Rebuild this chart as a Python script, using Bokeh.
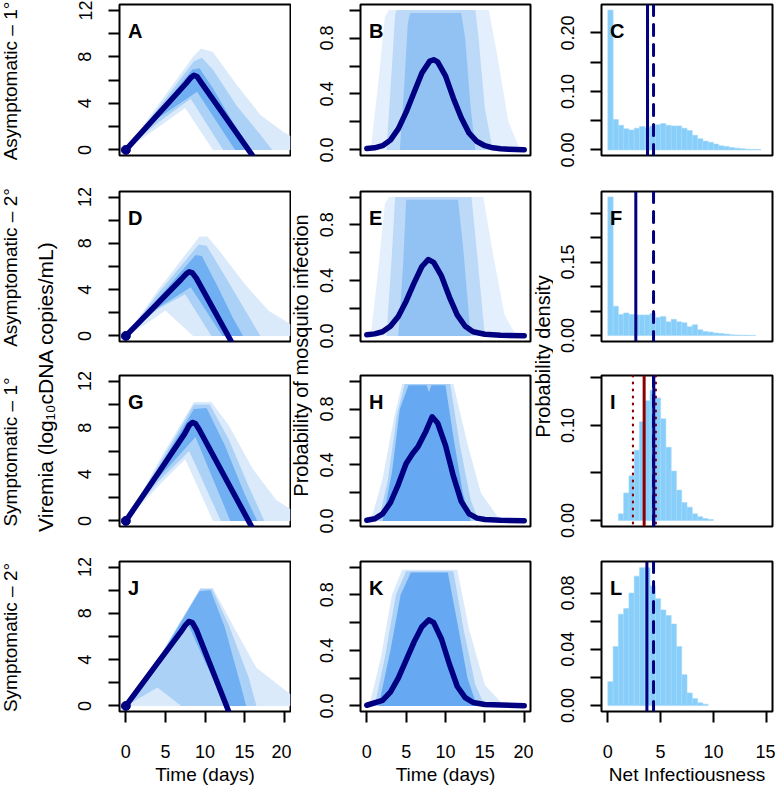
from math import pi
from bokeh.plotting import figure
from bokeh.layouts import row, column
from bokeh.models import Range1d, FixedTicker, PrintfTickFormatter, Label, Span
from bokeh.embed import file_html
from bokeh.resources import INLINE

# ---------------------------------------------------------------- data
time_ticks = [0, 5, 10, 15, 20]
net_ticks = [0, 5, 10, 15]
row_labels = ["Asymptomatic \u2013 1\u00b0", "Asymptomatic \u2013 2\u00b0",
              "Symptomatic \u2013 1\u00b0", "Symptomatic \u2013 2\u00b0"]
panel_letters = [["A", "B", "C"], ["D", "E", "F"], ["G", "H", "I"], ["J", "K", "L"]]
ylab_viremia = "Viremia (log\u2081\u2080cDNA copies/mL)"
ylab_prob = "Probability of mosquito infection"
ylab_dens = "Probability density"
xlab_time = "Time (days)"
xlab_net = "Net Infectiousness"

# median viremia trajectories (days, log10 copies/mL)
A_vir_t = [0, 4, 7.6, 8.2, 8.6, 9.0, 9.5, 16.5]
A_vir_v = [0, 3.0, 5.7, 6.2, 6.4, 6.3, 5.8, -0.97]
D_vir_t = [0, 4, 7.0, 7.6, 8.0, 8.4, 8.9, 13.9]
D_vir_v = [0, 2.8, 4.9, 5.35, 5.55, 5.45, 5.0, -1.2]
G_vir_t = [0, 4, 7.4, 8.0, 8.4, 8.8, 9.3, 16.5]
G_vir_v = [0, 4.0, 7.45, 8.2, 8.45, 8.35, 7.8, -1.26]
J_vir_t = [0, 4, 6.9, 7.5, 7.95, 8.4, 8.9, 13.7]
J_vir_v = [0, 3.7, 6.35, 6.95, 7.3, 7.2, 6.6, -1.7]

# envelopes of the sampled viremia trajectories [day, value]
A_haze = [[0, 0], [4, 3.8], [8.5, 8.0], [9.5, 8.7], [11, 8.4], [14, 5.6], [17, 3.0], [20, 1.5], [20.8, 1.2], [20.8, 0], [11, 0], [7.5, 3.6], [4, 1.9]]
A_mid = [[0, 0], [4, 3.5], [8.6, 7.6], [9.6, 7.9], [11, 6.9], [14, 3.8], [17, 1.3], [18.5, 0], [12.3, 0], [8.2, 4.4], [4, 2.3]]
A_dense = [[0, 0], [4, 3.2], [8.4, 6.9], [9.3, 7.0], [11, 5.3], [13.5, 2.4], [15.8, 0], [13.8, 0], [9, 5.0], [4, 2.7]]
D_haze = [[0, 0], [4, 3.9], [9.3, 8.6], [10.3, 8.6], [12, 7.2], [15, 4.5], [18, 2.2], [20.8, 1.0], [20.8, 0], [8.5, 0], [5, 2.2], [2.5, 1.0]]
D_mid = [[0, 0], [4, 3.6], [9.2, 7.9], [10.2, 7.8], [12.5, 5.2], [15, 2.3], [17, 0], [10.8, 0], [7.5, 3.6], [4, 2.3]]
D_dense = [[0, 0], [4, 3.2], [8.8, 7.0], [9.6, 6.9], [11.5, 4.4], [13.5, 1.6], [14.8, 0], [12.2, 0], [8.2, 4.2], [4, 2.4]]
G_haze = [[0, 0], [4.5, 5.5], [8.6, 10.2], [10.8, 10.2], [13, 8.2], [16, 4.5], [19, 1.8], [20.8, 1.0], [20.8, 0], [11, 0], [7.5, 5.3], [4, 2.9]]
G_mid = [[0, 0], [4.5, 5.2], [8.6, 10.0], [10.6, 10.0], [13, 7.0], [15.5, 3.0], [17.5, 0], [12, 0], [8, 6.0], [4, 3.3]]
G_dense = [[0, 0], [4.5, 4.9], [8.6, 9.6], [10.2, 9.7], [12.5, 6.5], [15, 2.3], [16.6, 0], [13.2, 0], [8.8, 7.2], [4, 3.6]]
J_haze = [[0, 0], [4.5, 4.6], [9.4, 10.2], [11, 10.2], [13.5, 7.0], [16.5, 3.3], [20.8, 1.0], [20.8, 0], [3.5, 0]]
J_mid = [[0, 0], [4.5, 4.5], [9.4, 10.1], [10.9, 10.1], [13, 7.0], [15.5, 2.5], [16.5, 0], [7, 0], [4, 1.6]]
J_dense = [[0, 0], [4.5, 4.4], [9.3, 9.9], [10.7, 10.0], [12.5, 6.8], [14.5, 1.8], [15.2, 0], [12.8, 0], [10, 3.8], [7.9, 7.0], [4, 3.4]]

# median probability of mosquito infection
B_prob_t = [0, 1, 2, 3, 4, 5, 6, 7, 8, 8.5, 9, 10, 11, 12, 13, 14, 15, 16, 17, 18, 19, 20]
B_prob_v = [0.01, 0.015, 0.03, 0.07, 0.15, 0.27, 0.41, 0.55, 0.635, 0.645, 0.63, 0.53, 0.37, 0.23, 0.12, 0.06, 0.03, 0.015, 0.008, 0.005, 0.003, 0.002]
E_prob_t = [0, 1, 2, 3, 4, 5, 6, 7, 7.8, 8.5, 9.5, 10.5, 11.5, 12.5, 13.5, 15, 17, 20]
E_prob_v = [0.008, 0.015, 0.03, 0.07, 0.14, 0.25, 0.38, 0.5, 0.55, 0.53, 0.43, 0.28, 0.15, 0.07, 0.03, 0.012, 0.005, 0.002]
H_prob_t = [0, 1, 2, 3, 4, 5, 5.8, 6.5, 7.5, 8.3, 9, 10, 11, 12, 13, 14, 15, 17, 20]
H_prob_v = [0.005, 0.015, 0.05, 0.13, 0.26, 0.41, 0.48, 0.53, 0.64, 0.745, 0.70, 0.54, 0.32, 0.14, 0.05, 0.02, 0.01, 0.004, 0.002]
K_prob_t = [0, 2, 3, 4, 5, 6, 7, 7.9, 8.5, 9.5, 10.5, 11.5, 12.5, 13.5, 15, 20]
K_prob_v = [0.005, 0.04, 0.1, 0.2, 0.33, 0.46, 0.57, 0.62, 0.6, 0.48, 0.3, 0.14, 0.06, 0.025, 0.01, 0.002]

# envelopes of the sampled probability curves [day, probability]
B_haze = [[0.5, 0], [1.5, 0.5], [2.3, 0.95], [2.8, 1.0], [15.5, 1.0], [16.5, 0.7], [18, 0.2], [19.5, 0]]
B_mid = [[2.5, 0], [3.2, 0.6], [3.6, 0.97], [3.8, 1.0], [13.8, 1.0], [14.2, 0.8], [15, 0.3], [16, 0]]
B_dense = [[4.2, 0], [4.8, 0.5], [5.2, 0.9], [5.5, 0.98], [12.0, 0.98], [12.5, 0.8], [13.2, 0.3], [13.8, 0]]
E_haze = [[0.5, 0], [1.5, 0.5], [2.3, 0.95], [2.8, 1.0], [14.8, 1.0], [16, 0.6], [17.5, 0.15], [19, 0]]
E_mid = [[2.5, 0], [3.2, 0.6], [3.6, 1.0], [13.3, 1.0], [14.0, 0.6], [15, 0]]
E_dense = [[4, 0], [4.6, 0.5], [5.0, 0.98], [11.6, 0.98], [12.3, 0.6], [13.2, 0]]
H_haze = [[0.5, 0], [2, 0.3], [3.5, 0.75], [4.5, 0.98], [11, 0.98], [12.8, 0.55], [14.5, 0.2], [17, 0]]
H_mid = [[1.5, 0], [2.7, 0.3], [3.8, 0.75], [4.8, 0.98], [10.6, 0.98], [11.8, 0.55], [13.2, 0.15], [14.2, 0]]
H_dense = [[2.0, 0], [3.2, 0.35], [4.2, 0.8], [5.3, 0.97], [7.6, 0.97], [7.9, 0.92], [8.2, 0.97], [10.0, 0.97], [11.0, 0.6], [12.2, 0.2], [13.2, 0]]
K_haze = [[0.3, 0], [1.8, 0.35], [3.2, 0.8], [4.5, 0.98], [11.5, 0.98], [13, 0.55], [15, 0.15], [17.5, 0]]
K_mid = [[1.0, 0], [2.3, 0.35], [3.7, 0.8], [5, 0.97], [11, 0.97], [12.3, 0.55], [13.8, 0.15], [15, 0]]
K_dense = [[1.5, 0], [3, 0.4], [4.3, 0.8], [5.6, 0.96], [10.3, 0.96], [11.5, 0.6], [12.8, 0.2], [14, 0]]

# net infectiousness histograms (density per bin of width 0.5)
bin_width = 0.5
C_start = 0.0
C_density = [0.239, 0.052, 0.042, 0.036, 0.034, 0.037, 0.040, 0.038, 0.041, 0.043, 0.045, 0.042, 0.041, 0.041, 0.037,
             0.033, 0.025, 0.019, 0.015, 0.013, 0.010, 0.007, 0.006, 0.004, 0.003, 0.002, 0.001, 0.0006, 0.0005]
F_start = 0.0
F_density = [0.283, 0.060, 0.043, 0.046, 0.043, 0.042, 0.042, 0.042, 0.045, 0.037, 0.039, 0.028, 0.033, 0.028, 0.026,
             0.018, 0.022, 0.012, 0.008, 0.007, 0.005, 0.004, 0.003, 0.0015, 0.001, 0.0008, 0.0005, 0.0003]
I_start = 1.0
I_density = [0.007, 0.029, 0.047, 0.074, 0.104, 0.126, 0.137, 0.129, 0.107, 0.077, 0.052, 0.032, 0.019, 0.014,
             0.007, 0.004, 0.002, 0.001]
L_start = 0.0
L_density = [0.017, 0.042, 0.065, 0.069, 0.080, 0.092, 0.098, 0.098, 0.085, 0.076, 0.068, 0.064, 0.058, 0.042,
             0.022, 0.009, 0.005, 0.002, 0.001]

# reference values (vertical lines)
C_solid, C_dashed = 3.76, 4.33
F_solid, F_dashed = 2.65, 4.33
I_solid, I_dashed = 4.35, 4.33
I_red, I_red_lo, I_red_hi = 3.44, 2.38, 4.55
L_solid, L_dashed = 3.70, 4.33

# axis ranges / ticks
vir_range = (-0.48, 12.48)
vir_major, vir_minor = [0, 4, 8, 12], [2, 6, 10]
prob_range = (-0.04, 1.04)
prob_major, prob_minor = [0, 0.4, 0.8], [0.2, 0.6, 1.0]
time_range = (-0.8, 20.8)
net_range = (-0.6, 15.6)
dens_ranges = [(-0.0096, 0.2486), (-0.0122, 0.294), (-0.0063, 0.1526), (-0.0042, 0.1024)]
dens_major = [[0, 0.1, 0.2], [0, 0.15], [0, 0.1], [0, 0.04, 0.08]]
dens_minor = [[0.05, 0.15], [0.05, 0.1, 0.2, 0.25], [0.05, 0.15], [0.02, 0.06]]

# ---------------------------------------------------------------- style / layout
FONT = "Liberation Sans"
NAVY = "#000080"
DARKRED = "#8B0000"
HIST = "#87CEFA"
VIR_COLS = ["#DAEAFB", "#ABD1F7", "#6FAFF2"]
PROB_COLS_A = ["#E3EFFC", "#BCD9F8", "#92C2F3"]
PROB_COLS_S = ["#DAEAFB", "#ABD1F7", "#66A9F2"]

FRAME_H = [151, 150, 151, 150]
BT = [4, 18, 18, 18]
BB = [18, 16, 17, 79]
FIG_H = [BT[i] + FRAME_H[i] + BB[i] for i in range(4)]
TOTAL_H = sum(FIG_H)
FRAME_W = [171, 170, 171]
BL = [55, 48, 48]
BR = [1, 3, 3]
FIG_W = [BL[i] + FRAME_W[i] + BR[i] for i in range(3)]
STRIP_W = [64, 21, 20]
Y_STANDOFF = [17, 16, 16]
X_STANDOFF = 22


def base_fig(c, r, xr, yr):
    p = figure(width=FIG_W[c], height=FIG_H[r], x_range=Range1d(*xr), y_range=Range1d(*yr),
               output_backend="svg", toolbar_location=None,
               x_axis_location="below" if r == 3 else None,
               min_border_left=BL[c], min_border_right=BR[c],
               min_border_top=BT[r], min_border_bottom=BB[r])
    p.grid.visible = False
    p.outline_line_color = "black"
    p.outline_line_width = 2
    p.background_fill_color = "white"
    p.border_fill_color = "white"
    return p


def style_axis(ax, major, minor, fmt, standoff, vertical):
    ax.ticker = FixedTicker(ticks=major, minor_ticks=minor)
    ax.formatter = PrintfTickFormatter(format=fmt)
    ax.axis_line_color = None
    ax.major_tick_out = 11
    ax.major_tick_in = 0
    ax.minor_tick_out = 11
    ax.minor_tick_in = 0
    ax.major_tick_line_width = 2
    ax.minor_tick_line_width = 2
    ax.major_tick_line_color = "black"
    ax.minor_tick_line_color = "black"
    ax.major_label_text_font = FONT
    ax.major_label_text_font_size = "18px"
    ax.major_label_text_color = "black"
    ax.major_label_standoff = standoff
    if vertical:
        ax.major_label_orientation = "vertical"
    ax.axis_label_text_font = FONT
    ax.axis_label_text_font_size = "19px"
    ax.axis_label_text_font_style = "normal"
    ax.axis_label_text_color = "black"
    ax.axis_label_standoff = 3


def add_letter(p, c, r, letter, xr, yr):
    x = xr[0] + 8.5 * (xr[1] - xr[0]) / FRAME_W[c]
    y = yr[1] - 26 * (yr[1] - yr[0]) / FRAME_H[r]
    p.add_layout(Label(x=x, y=y, text=letter, text_font=FONT, text_font_size="20px",
                       text_font_style="bold", text_color="black",
                       text_align="left", text_baseline="alphabetic"))


def add_cloud(p, polys, cols):
    for poly, col in zip(polys, cols):
        p.patch([pt[0] for pt in poly], [pt[1] for pt in poly], fill_color=col,
                line_color=None)


vir_data = [(A_vir_t, A_vir_v, [A_haze, A_mid, A_dense]),
            (D_vir_t, D_vir_v, [D_haze, D_mid, D_dense]),
            (G_vir_t, G_vir_v, [G_haze, G_mid, G_dense]),
            (J_vir_t, J_vir_v, [J_haze, J_mid, J_dense])]
prob_data = [(B_prob_t, B_prob_v, [B_haze, B_mid, B_dense]),
             (E_prob_t, E_prob_v, [E_haze, E_mid, E_dense]),
             (H_prob_t, H_prob_v, [H_haze, H_mid, H_dense]),
             (K_prob_t, K_prob_v, [K_haze, K_mid, K_dense])]
hist_data = [(C_start, C_density), (F_start, F_density), (I_start, I_density), (L_start, L_density)]
line_data = [(C_solid, C_dashed), (F_solid, F_dashed), (I_solid, I_dashed), (L_solid, L_dashed)]

col_figs = [[], [], []]
for r in range(4):
    # --- viremia
    t, v, polys = vir_data[r]
    p = base_fig(0, r, time_range, vir_range)
    add_cloud(p, polys, VIR_COLS)
    p.line(t, v, line_color=NAVY, line_width=5.5, line_cap="round", line_join="round")
    p.scatter([t[0]], [v[0]], size=9, color=NAVY)
    style_axis(p.yaxis[0], vir_major, vir_minor, "%d", Y_STANDOFF[0], True)
    if r == 3:
        style_axis(p.xaxis[0], time_ticks, [], "%d", X_STANDOFF, False)
        p.xaxis[0].axis_label = xlab_time
    add_letter(p, 0, r, panel_letters[r][0], time_range, vir_range)
    col_figs[0].append(p)

    # --- probability of mosquito infection
    t, v, polys = prob_data[r]
    p = base_fig(1, r, time_range, prob_range)
    add_cloud(p, polys, PROB_COLS_A if r < 2 else PROB_COLS_S)
    p.line(t, v, line_color=NAVY, line_width=5.5, line_cap="round", line_join="round")
    style_axis(p.yaxis[0], prob_major, prob_minor, "%.1f", Y_STANDOFF[1], True)
    if r == 3:
        style_axis(p.xaxis[0], time_ticks, [], "%d", X_STANDOFF, False)
        p.xaxis[0].axis_label = xlab_time
    add_letter(p, 1, r, panel_letters[r][1], time_range, prob_range)
    col_figs[1].append(p)

    # --- net infectiousness histogram
    start, dens = hist_data[r]
    yr = dens_ranges[r]
    p = base_fig(2, r, net_range, yr)
    left = [start + i * bin_width for i in range(len(dens))]
    right = [l + bin_width for l in left]
    p.quad(left=left, right=right, top=dens, bottom=0, fill_color=HIST,
           line_color="#A5D8F8", line_width=0.6)
    solid, dashed = line_data[r]
    if r == 2:
        for xv in (I_red_lo, I_red_hi):
            p.add_layout(Span(location=xv, dimension="height", line_color=DARKRED,
                              line_width=2.2, line_dash="1 6", line_cap="round"))
        p.add_layout(Span(location=I_red, dimension="height", line_color=DARKRED, line_width=3))
    p.add_layout(Span(location=dashed, dimension="height", line_color=NAVY, line_width=3,
                      line_dash="11 9", line_cap="round"))
    p.add_layout(Span(location=solid, dimension="height", line_color=NAVY, line_width=3))
    style_axis(p.yaxis[0], dens_major[r], dens_minor[r], "%.2f", Y_STANDOFF[2], True)
    if r == 3:
        style_axis(p.xaxis[0], net_ticks, [], "%d", X_STANDOFF, False)
        p.xaxis[0].axis_label = xlab_net
    add_letter(p, 2, r, panel_letters[r][2], net_range, yr)
    col_figs[2].append(p)


def strip(width):
    s = figure(width=width, height=TOTAL_H, x_range=Range1d(0, width), y_range=Range1d(0, TOTAL_H),
               output_backend="svg", toolbar_location=None,
               x_axis_location=None, y_axis_location=None,
               min_border_left=0, min_border_right=0, min_border_top=0, min_border_bottom=0)
    s.grid.visible = False
    s.outline_line_color = None
    s.background_fill_color = "white"
    s.border_fill_color = "white"
    return s


def vlabel(s, text, x_local, page_y, size):
    s.add_layout(Label(x=x_local, y=TOTAL_H - page_y, text=text, angle=pi / 2,
                       text_font=FONT, text_font_size=size, text_color="black",
                       text_align="center", text_baseline="middle"))


# frame centres (page y) of the four rows
row_top = []
acc = 0
for i in range(4):
    row_top.append(acc + BT[i])
    acc += FIG_H[i]
row_centers = [row_top[i] + FRAME_H[i] / 2 + 1 for i in range(4)]

s1 = strip(STRIP_W[0])
for lab, yc in zip(row_labels, row_centers):
    vlabel(s1, lab, 9.5, yc, "19px")
vlabel(s1, ylab_viremia, 45, 386, "21px")

s2 = strip(STRIP_W[1])
vlabel(s2, ylab_prob, 9.5, 355, "20px")

s3 = strip(STRIP_W[2])
vlabel(s3, ylab_dens, 9.5, 356, "20px")

layout = row(s1, column(*col_figs[0]), s2, column(*col_figs[1]), s3, column(*col_figs[2]))

with open("out.html", "w") as f:
    f.write(file_html(layout, INLINE))
